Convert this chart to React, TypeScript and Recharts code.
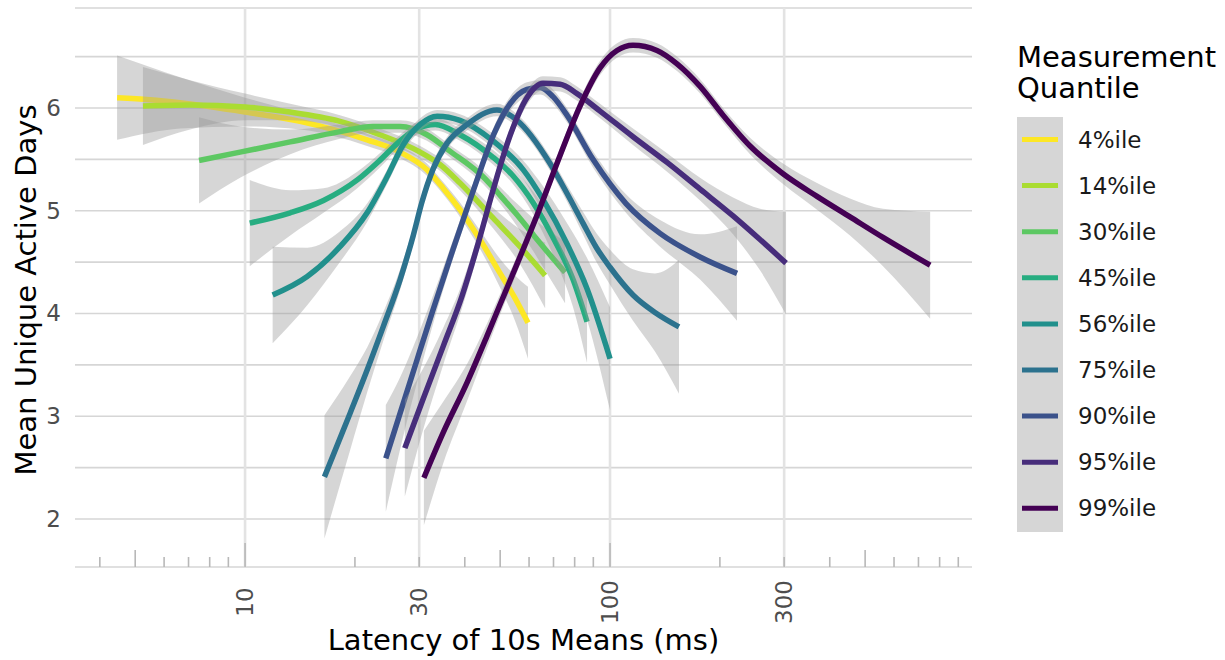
import React from "react";
import { Area, CartesianGrid, ComposedChart, Line, XAxis, YAxis } from "recharts";

const quantiles = ["4%ile", "14%ile", "30%ile", "45%ile", "56%ile", "75%ile", "90%ile", "95%ile", "99%ile"];
const colors = ["#FDE725", "#AADC32", "#5DC863", "#27AD81", "#21908C", "#2C728E", "#3B528B", "#472D7B", "#440154"];

// [latency ms, mean unique active days, ci half-width]
const q04 = [
  [4.46, 6.1, 0.41], [5.49, 6.08, 0.32], [6.64, 6.05, 0.25], [10, 5.96, 0.14], [14.15, 5.87, 0.08],
  [21.6, 5.69, 0.06], [26.6, 5.57, 0.06], [31.5, 5.4, 0.06], [34.9, 5.22, 0.06], [38.8, 5.01, 0.07],
  [44.0, 4.72, 0.09], [50.0, 4.39, 0.14], [54.9, 4.15, 0.22], [59.6, 3.91, 0.35],
];
const q14 = [
  [5.25, 6.02, 0.38], [7.07, 6.03, 0.24], [10, 6.01, 0.13], [13.3, 5.96, 0.08], [18.2, 5.87, 0.06],
  [23.4, 5.74, 0.06], [30.2, 5.57, 0.06], [34.2, 5.45, 0.06], [38.8, 5.27, 0.07], [47.8, 4.93, 0.1],
  [56.7, 4.65, 0.17], [66.4, 4.37, 0.32],
];
const q30 = [
  [7.48, 5.49, 0.42], [9.69, 5.57, 0.25], [13.3, 5.67, 0.12], [18.2, 5.77, 0.07], [22.4, 5.82, 0.06],
  [26.6, 5.82, 0.06], [31.5, 5.74, 0.06], [36.4, 5.58, 0.06], [44.9, 5.33, 0.07], [50.0, 5.15, 0.08],
  [55.6, 4.96, 0.11], [61.5, 4.77, 0.16], [68.5, 4.57, 0.23], [75.3, 4.4, 0.3],
];
const q45 = [
  [10.3, 4.88, 0.42], [13.3, 4.98, 0.22], [16.4, 5.1, 0.12], [20.3, 5.3, 0.08], [23.4, 5.49, 0.07],
  [26.6, 5.68, 0.06], [29.6, 5.8, 0.06], [33.2, 5.84, 0.06], [38.8, 5.74, 0.06], [47.8, 5.52, 0.07],
  [54.2, 5.34, 0.08], [61.5, 5.08, 0.11], [69.8, 4.74, 0.17], [79.2, 4.33, 0.27], [86.5, 3.92, 0.4],
];
const q56 = [
  [11.9, 4.18, 0.47], [14.8, 4.36, 0.28], [18.2, 4.65, 0.15], [21.6, 4.98, 0.09], [24.5, 5.33, 0.07],
  [27.1, 5.64, 0.07], [30.2, 5.84, 0.06], [33.6, 5.92, 0.06], [38.8, 5.88, 0.06], [47.8, 5.68, 0.07],
  [57.8, 5.4, 0.09], [65.5, 5.11, 0.13], [76.2, 4.68, 0.2], [86.5, 4.24, 0.3], [100, 3.56, 0.5],
];
const q75 = [
  [16.5, 2.41, 0.6], [19.4, 3.03, 0.36], [21.6, 3.45, 0.22], [23.9, 3.87, 0.14], [26.6, 4.33, 0.1],
  [28.9, 4.76, 0.08], [30.5, 5.08, 0.07], [32.7, 5.4, 0.07], [35.8, 5.66, 0.06], [40.6, 5.84, 0.06],
  [49.0, 5.98, 0.06], [55.6, 5.88, 0.06], [68.5, 5.46, 0.07], [76.2, 5.17, 0.08], [84.3, 4.88, 0.11],
  [91.8, 4.64, 0.14], [100, 4.45, 0.17], [115.6, 4.18, 0.25], [132.8, 4.01, 0.38], [154.5, 3.87, 0.65],
];
const q90 = [
  [24.3, 2.59, 0.52], [26.6, 3.03, 0.35], [29.6, 3.55, 0.22], [32.7, 4.03, 0.14], [37.1, 4.62, 0.09],
  [40.1, 4.97, 0.08], [43.2, 5.3, 0.07], [48.1, 5.75, 0.07], [53.2, 6.04, 0.07], [59.2, 6.18, 0.07],
  [64.3, 6.2, 0.07], [69.8, 6.11, 0.07], [76.2, 5.93, 0.07], [89.8, 5.5, 0.08], [110.6, 5.07, 0.09],
  [137.1, 4.78, 0.13], [176.5, 4.55, 0.22], [222.8, 4.39, 0.46],
];
const q95 = [
  [27.4, 2.69, 0.47], [30.7, 3.16, 0.3], [34.9, 3.68, 0.18], [39.3, 4.17, 0.12], [43.5, 4.68, 0.09],
  [47.8, 5.2, 0.08], [53.2, 5.73, 0.07], [59.2, 6.1, 0.07], [65.5, 6.24, 0.07], [73.0, 6.23, 0.07],
  [81.2, 6.14, 0.07], [93.9, 5.97, 0.07], [115.6, 5.72, 0.08], [143.3, 5.47, 0.09], [176.5, 5.21, 0.11],
  [217.3, 4.95, 0.18], [257.6, 4.72, 0.3], [303.6, 4.49, 0.5],
];
const q99 = [
  [30.9, 2.4, 0.46], [34.9, 2.84, 0.3], [40.6, 3.33, 0.18], [46.0, 3.78, 0.12], [50.0, 4.09, 0.1],
  [55.6, 4.48, 0.08], [64.3, 5.03, 0.07], [73.0, 5.54, 0.07], [82.8, 6.02, 0.07], [93.9, 6.39, 0.07],
  [104.5, 6.56, 0.07], [115.6, 6.61, 0.07], [134.5, 6.56, 0.07], [152.6, 6.43, 0.07], [176.5, 6.21, 0.07],
  [204.0, 5.93, 0.07], [241.9, 5.63, 0.08], [297.9, 5.36, 0.1], [369.1, 5.14, 0.13], [454.5, 4.94, 0.18],
  [559.7, 4.74, 0.28], [753.6, 4.47, 0.52],
];

const curves = [q04, q14, q30, q45, q56, q75, q90, q95, q99];

const xLabelTicks = [10, 30, 100, 300];
const xLogTicks = [4, 5, 6, 7, 8, 9, 10, 20, 30, 40, 50, 60, 70, 80, 90, 100, 200, 300, 400, 500, 600, 700, 800, 900];
const yTicks = [2, 2.5, 3, 3.5, 4, 4.5, 5, 5.5, 6, 6.5];

const FONT = "DejaVu Sans, sans-serif";

const series = curves.map((pts) => pts.map(([x, y, ci]) => ({ x, y, band: [y - ci, y + ci] })));

function LogTick(props: any) {
  const { x, y, payload } = props;
  const v = payload.value;
  const m = v / Math.pow(10, Math.floor(Math.log10(v) + 1e-9));
  const len = Math.abs(m - 1) < 1e-6 ? 24 : Math.abs(m - 5) < 1e-6 ? 17 : 10;
  const ly = y + 35;
  return (
    <g>
      <line x1={x} x2={x} y1={y} y2={y - len} stroke="#b8b8b8" strokeWidth={1.6} />
      {xLabelTicks.includes(v) && (
        <text
          x={x}
          y={ly}
          transform={`rotate(-90 ${x} ${ly})`}
          textAnchor="middle"
          dominantBaseline="central"
          fontSize={23}
          fontFamily={FONT}
          fill="#4d4d4d"
        >
          {v}
        </text>
      )}
    </g>
  );
}

function DayTick(props: any) {
  const { x, y, payload } = props;
  if (payload.value % 1 !== 0) return <g />;
  return (
    <text x={x - 14} y={y} textAnchor="end" dominantBaseline="central" fontSize={23} fontFamily={FONT} fill="#4d4d4d">
      {payload.value}
    </text>
  );
}

export default function App() {
  return (
    <div style={{ position: "absolute", left: 0, top: 0, width: 1225, height: 660, background: "#fff", fontFamily: FONT }}>
      <ComposedChart width={1225} height={660} margin={{ top: 8, right: 253, bottom: 0, left: 0 }}>
        <CartesianGrid vertical={false} stroke="#d6d6d6" strokeWidth={1.6} />
        <CartesianGrid horizontal={false} verticalValues={xLabelTicks} stroke="#e3e3e3" strokeWidth={2.6} />
        <XAxis
          type="number"
          dataKey="x"
          scale="log"
          domain={[3.42, 981.3]}
          allowDataOverflow
          ticks={xLogTicks}
          interval={0}
          tick={<LogTick />}
          tickLine={false}
          axisLine={false}
          tickSize={0}
          tickMargin={0}
          height={93}
        />
        <YAxis
          type="number"
          domain={[1.533, 6.973]}
          allowDataOverflow
          ticks={yTicks}
          interval={0}
          tick={<DayTick />}
          tickLine={false}
          axisLine={false}
          tickSize={0}
          tickMargin={0}
          width={75}
        />
        {series.flatMap((data, i) => [
          <Area
            key={`band-${i}`}
            data={data}
            dataKey="band"
            type="monotone"
            stroke="none"
            fill="#999999"
            fillOpacity={0.4}
            activeDot={false}
            isAnimationActive={false}
            zIndex={100 + i * 2}
          />,
          <Line
            key={`line-${i}`}
            data={data}
            dataKey="y"
            type="monotone"
            stroke={colors[i]}
            strokeWidth={5.5}
            dot={false}
            activeDot={false}
            isAnimationActive={false}
            zIndex={101 + i * 2}
          />,
        ])}
      </ComposedChart>
      <svg width={1225} height={660} style={{ position: "absolute", left: 0, top: 0, pointerEvents: "none" }}>
        <text x={523.5} y={650} textAnchor="middle" fontSize={29} fontFamily={FONT} fill="#000">
          Latency of 10s Means (ms)
        </text>
        <text x={36} y={290} transform="rotate(-90 36 290)" textAnchor="middle" fontSize={29} fontFamily={FONT} fill="#000">
          Mean Unique Active Days
        </text>
        <text x={1017} y={67} fontSize={29} fontFamily={FONT} fill="#000">Measurement</text>
        <text x={1017} y={98} fontSize={29} fontFamily={FONT} fill="#000">Quantile</text>
        <rect x={1017} y={117} width={46} height={415} fill="#d6d6d6" />
        {quantiles.map((q, i) => (
          <g key={q}>
            <line x1={1022} x2={1058} y1={139.5 + i * 46.1} y2={139.5 + i * 46.1} stroke={colors[i]} strokeWidth={5} />
            <text x={1078} y={139.5 + i * 46.1} dominantBaseline="central" fontSize={23} fontFamily={FONT} fill="#1a1a1a">
              {q}
            </text>
          </g>
        ))}
      </svg>
    </div>
  );
}
